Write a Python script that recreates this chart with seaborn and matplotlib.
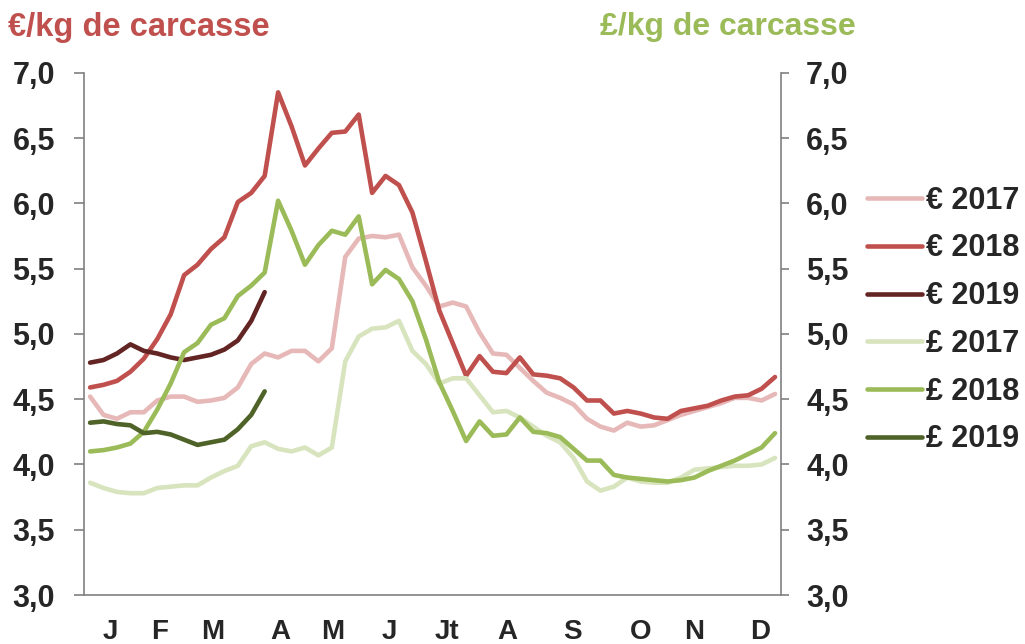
import pandas as pd
import seaborn as sns
import matplotlib.pyplot as plt

# weekly carcass prices, weeks 1..52
eur_2017 = [4.52, 4.38, 4.35, 4.40, 4.40, 4.49, 4.52, 4.52, 4.48, 4.49, 4.51, 4.59, 4.77,
            4.85, 4.82, 4.87, 4.87, 4.79, 4.89, 5.59, 5.73, 5.75, 5.74, 5.76, 5.51, 5.37,
            5.21, 5.24, 5.21, 5.01, 4.85, 4.84, 4.74, 4.64, 4.55, 4.51, 4.46, 4.35, 4.29,
            4.26, 4.32, 4.29, 4.30, 4.34, 4.38, 4.41, 4.44, 4.47, 4.51, 4.51, 4.49, 4.54]
eur_2018 = [4.59, 4.61, 4.64, 4.71, 4.81, 4.96, 5.15, 5.45, 5.53, 5.65, 5.74, 6.01, 6.08,
            6.21, 6.85, 6.59, 6.29, 6.42, 6.54, 6.55, 6.68, 6.08, 6.21, 6.14, 5.93, 5.56,
            5.18, 4.93, 4.68, 4.83, 4.71, 4.70, 4.82, 4.69, 4.68, 4.66, 4.59, 4.49, 4.49,
            4.39, 4.41, 4.39, 4.36, 4.35, 4.41, 4.43, 4.45, 4.49, 4.52, 4.53, 4.58, 4.67]
eur_2019 = [4.78, 4.80, 4.85, 4.92, 4.87, 4.85, 4.82, 4.80, 4.82, 4.84, 4.88, 4.95, 5.10, 5.32]
gbp_2017 = [3.86, 3.82, 3.79, 3.78, 3.78, 3.82, 3.83, 3.84, 3.84, 3.90, 3.95, 3.99, 4.14,
            4.17, 4.12, 4.10, 4.13, 4.07, 4.13, 4.79, 4.98, 5.04, 5.05, 5.10, 4.87, 4.77,
            4.62, 4.66, 4.66, 4.53, 4.40, 4.41, 4.36, 4.29, 4.22, 4.17, 4.05, 3.87, 3.80,
            3.83, 3.90, 3.87, 3.86, 3.86, 3.90, 3.96, 3.97, 3.98, 3.99, 3.99, 4.00, 4.05]
gbp_2018 = [4.10, 4.11, 4.13, 4.16, 4.25, 4.42, 4.62, 4.86, 4.93, 5.07, 5.12, 5.29, 5.37,
            5.47, 6.02, 5.79, 5.53, 5.68, 5.79, 5.76, 5.90, 5.38, 5.49, 5.42, 5.25, 4.96,
            4.63, 4.41, 4.18, 4.33, 4.22, 4.23, 4.36, 4.25, 4.24, 4.21, 4.12, 4.03, 4.03,
            3.92, 3.90, 3.89, 3.88, 3.87, 3.88, 3.90, 3.95, 3.99, 4.03, 4.08, 4.13, 4.24]
gbp_2019 = [4.32, 4.33, 4.31, 4.30, 4.24, 4.25, 4.23, 4.19, 4.15, 4.17, 4.19, 4.27, 4.38, 4.56]

series_names = ['€ 2017', '€ 2018', '€ 2019', '£ 2017', '£ 2018', '£ 2019']
series_values = [eur_2017, eur_2018, eur_2019, gbp_2017, gbp_2018, gbp_2019]
colors = ['#E6B9B8', '#C0504D', '#632523', '#D7E4BD', '#9BBB59', '#4F6228']

month_labels = ['J', 'F', 'M', 'A', 'M', 'J', 'Jt', 'A', 'S', 'O', 'N', 'D']
month_pos = [1.5, 5.2, 9.1, 14.2, 18.1, 22.3, 26.6, 31.1, 35.9, 41.0, 45.0, 49.9]
y_ticks = [3.0, 3.5, 4.0, 4.5, 5.0, 5.5, 6.0, 6.5, 7.0]

rows = []
for name, vals in zip(series_names, series_values):
    for week, v in enumerate(vals):
        rows.append({'week': week, 'price': v, 'serie': name})
df = pd.DataFrame(rows)

sns.set_style('white')
plt.rcParams['font.family'] = ['Liberation Sans', 'DejaVu Sans']
FS = 22

fig = plt.figure(figsize=(10.25, 6.44), dpi=100)
ax = fig.add_axes([0.082, 0.076, 0.68, 0.811])

sns.lineplot(data=df, x='week', y='price', hue='serie', hue_order=series_names,
             palette=colors, linewidth=3.3, ax=ax, legend=False)

ax.set_xlim(-0.45, 51.45)
ax.set_ylim(3.0, 7.0)
ax.set_xlabel('')
ax.set_ylabel('')
ax.set_xticks(month_pos)
ax.set_xticklabels(month_labels, fontsize=20, fontweight='bold')
ax.tick_params(axis='x', length=0, pad=17)

tick_txt = [f'{t:.1f}'.replace('.', ',') for t in y_ticks]
ax.set_yticks(y_ticks)
ax.set_yticklabels(tick_txt, fontsize=FS, fontweight='bold')
ax.tick_params(axis='y', direction='out', length=7, width=1.2, color='#808080',
               left=True, pad=14)

ax2 = ax.twinx()
ax2.set_ylim(3.0, 7.0)
ax2.set_yticks(y_ticks)
ax2.set_yticklabels(tick_txt, fontsize=FS, fontweight='bold')
ax2.tick_params(axis='y', direction='out', length=6, width=1.2, color='#808080',
                right=True, pad=12)

for a in (ax, ax2):
    a.spines['top'].set_visible(False)
    for s in ('left', 'right', 'bottom'):
        a.spines[s].set_color('#808080')
        a.spines[s].set_linewidth(1.2)
ax.spines['right'].set_visible(False)
ax2.spines['left'].set_visible(False)
ax2.spines['bottom'].set_visible(False)

fig.text(0.008, 0.958, '€/kg de carcasse', color='#C0504D', fontsize=23.5,
         fontweight='bold', va='center', ha='left')
fig.text(0.585, 0.958, '£/kg de carcasse', color='#9BBB59', fontsize=23,
         fontweight='bold', va='center', ha='left')

handles = [plt.Line2D([], [], color=c, linewidth=3.3) for c in colors]
fig.legend(handles, series_names, loc='center left', bbox_to_anchor=(0.819, 0.503),
           frameon=False, prop={'size': FS, 'weight': 'bold'},
           handlelength=1.8, handletextpad=0.12, labelspacing=0.58)

fig.savefig('out.png', dpi=100)
